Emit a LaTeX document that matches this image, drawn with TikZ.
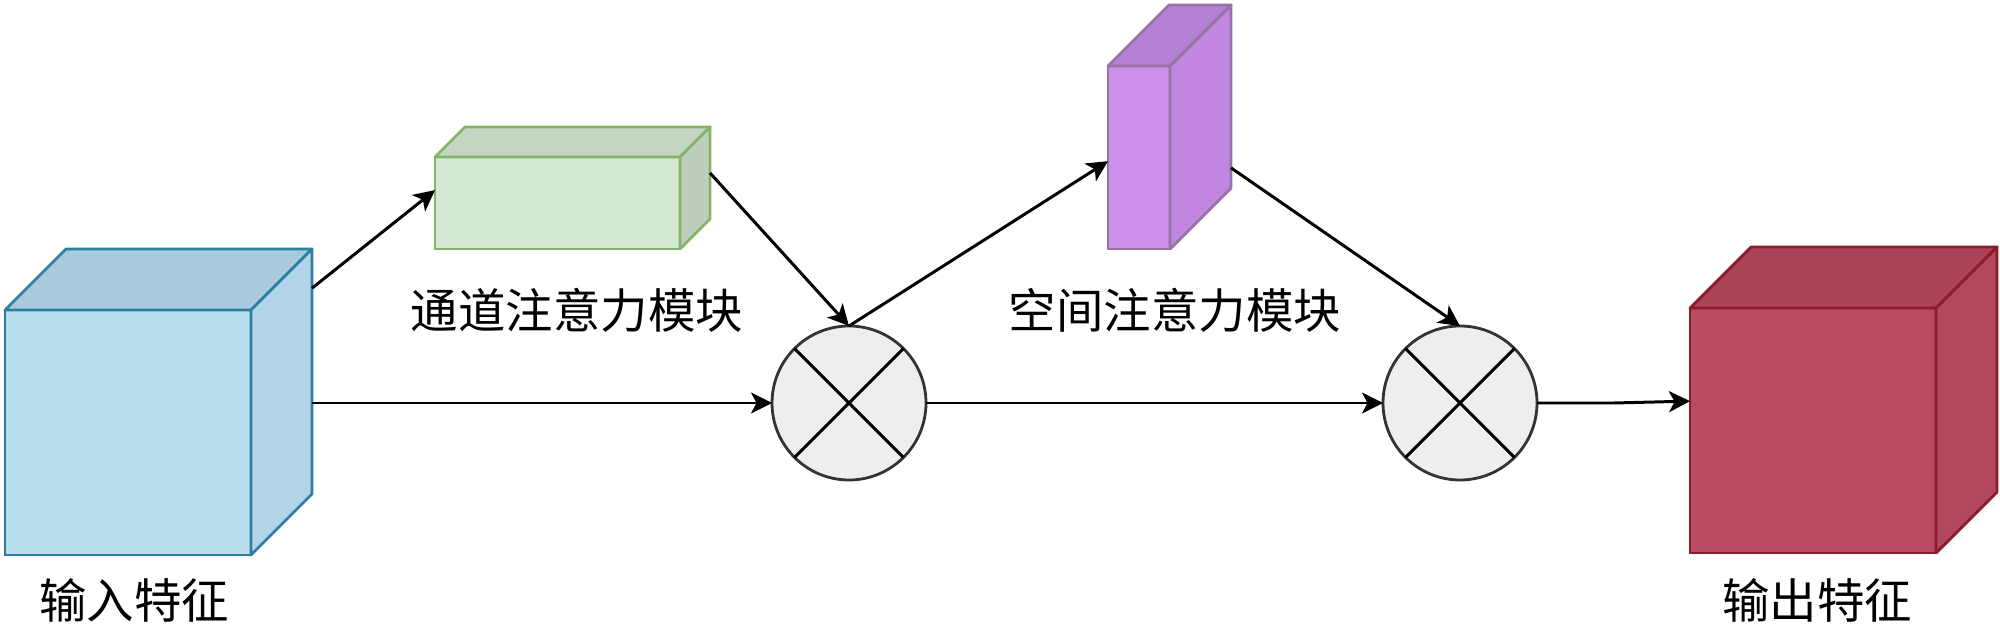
\documentclass[tikz,border=0pt]{standalone}
\usepackage{fontspec}
\newfontfamily\cjk{Noto Sans CJK SC}
\usetikzlibrary{arrows.meta,calc}
\definecolor{bluefront}{HTML}{B9DFEF}
\definecolor{bluetop}{HTML}{A8CADC}
\definecolor{blueside}{HTML}{B1D5E6}
\definecolor{blueline}{HTML}{2B7FA3}
\definecolor{greenfront}{HTML}{D5E8D4}
\definecolor{greentop}{HTML}{C4D6C3}
\definecolor{greenside}{HTML}{BDCEBC}
\definecolor{greenline}{HTML}{82B366}
\definecolor{purplefront}{HTML}{CC8FEA}
\definecolor{purpletop}{HTML}{B57FD3}
\definecolor{purpleside}{HTML}{C187E0}
\definecolor{purpleline}{HTML}{9673A6}
\definecolor{redfront}{HTML}{B84B62}
\definecolor{redtop}{HTML}{AC4459}
\definecolor{redside}{HTML}{B24860}
\definecolor{redline}{HTML}{8A1C2C}
\definecolor{mulfill}{HTML}{EEEEEE}
\definecolor{mulline}{HTML}{333333}
% name, x, y, width, height, depth, colour prefix
\newcommand{\mycube}[7]{%
  \node[face, draw=#7line, fill=#7front, minimum width=#4*0.02cm, minimum height=#5*0.02cm] (#1) at (#2,#3) {};
  \filldraw[facepath, draw=#7line, fill=#7top] (#1.north west) -- ++(#6,-#6) coordinate (#1-btl) -- ++(#4,0) coordinate (#1-btr) -- (#1.north east) -- cycle;
  \filldraw[facepath, draw=#7line, fill=#7side] (#1.north east) -- (#1-btr) -- ++(0,#5) coordinate (#1-bbr) -- (#1.south east) -- cycle;
}
\begin{document}
\begin{tikzpicture}[x=0.02cm,y=-0.02cm,
  face/.style={inner sep=0pt, outer sep=0pt, anchor=north west, line width=1.6pt},
  facepath/.style={line width=1.6pt, line join=round},
  conn/.style={line width=1.7pt, -{Stealth[length=0.42cm,width=0.42cm,inset=0.11cm]}},
  lbl/.style={font=\cjk\fontsize{27}{32}\selectfont, inner sep=0pt},
  mul/.style={circle, draw=mulline, fill=mulfill, line width=1.6pt, minimum size=154*0.02cm, inner sep=0pt, outer sep=0pt},
  crossline/.style={line width=1.7pt, black}]
\useasboundingbox (0,0) rectangle (2000,624);

\mycube{in}{5}{310}{246}{245}{61}{blue}
\mycube{ch}{435}{157}{245}{92}{30}{green}
\mycube{sp}{1108}{66}{62}{183}{61}{purple}
\mycube{out}{1690}{308}{246}{245}{61}{red}

\node[mul] (m1) at (849,403) {};
\draw[crossline] (m1.north west) -- (m1.south east) (m1.north east) -- (m1.south west);
\node[mul] (m2) at (1460,403) {};
\draw[crossline] (m2.north west) -- (m2.south east) (m2.north east) -- (m2.south west);

\node[lbl] (lch) at (577,310) {通道注意力模块};
\node[lbl] (lsp) at (1175,310) {空间注意力模块};
\node[lbl] (lin) at (134,600) {输入特征};
\node[lbl] (lout) at (1817,600) {输出特征};

\draw[conn] ($(in-btr)!0.16!(in-bbr)$) -- ($(ch.north west)!0.36!(ch.south west)$);
\draw[conn] (in-btr |- m1.west) -- (m1.west);
\draw[conn] ($(ch-btr)!0.5!(ch-bbr)$) -- (m1.north);
\draw[conn] (m1.north) -- ($(sp.north west)!0.52!(sp.south west)$);
\draw[conn] ($(sp-btr)!0.89!(sp-bbr)$) -- (m2.north);
\draw[conn] (m1.east) -- (m2.west);
\draw[conn] (m2.east) -- ++(77,0) -- ($(out.north west)!0.38!(out.south west)$);
\end{tikzpicture}
\end{document}
